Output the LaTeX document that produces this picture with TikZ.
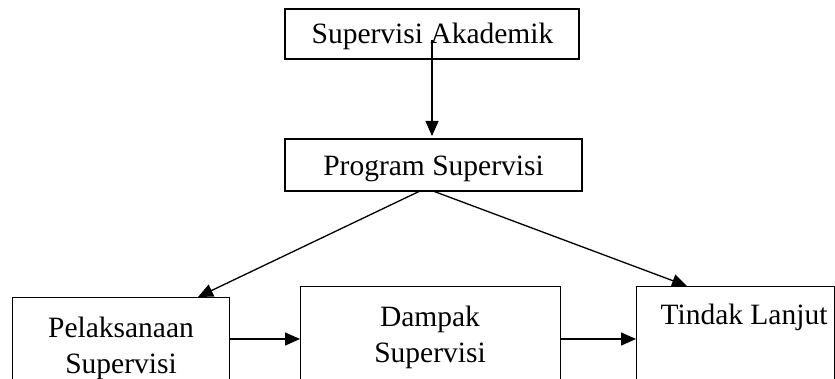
\documentclass[tikz,border=0pt]{standalone}
\usepackage{fontspec}
\setmainfont{Liberation Serif}
\usetikzlibrary{arrows.meta}
\begin{document}
\begin{tikzpicture}[x=1pt,y=-1pt,
  box/.style={draw,line width=1.3pt,rectangle,inner sep=0pt},
  lbl/.style={inner sep=0pt,align=center,font=\fontsize{29.5}{36}\selectfont},
  arr/.style={line width=1.3pt,-{Triangle[length=15pt,width=13pt]}}]
\clip (0,0) rectangle (835,379);
\fill[white] (0,0) rectangle (835,379);
% boxes
\node[box,minimum width=294pt,minimum height=50pt] (sa) at (432,34) {};
\node[lbl,anchor=base] (sat) at (432.5,44) {Supervisi Akademik};
\node[box,minimum width=297pt,minimum height=52pt] (ps) at (433.5,165) {};
\node[lbl,anchor=base] (pst) at (433.5,176) {Program Supervisi};
\node[box,anchor=north west,minimum width=217pt,minimum height=120pt] (pel) at (12,297) {};
\node[lbl] (pelt) at (121,348) {Pelaksanaan\\Supervisi};
\node[box,anchor=north west,minimum width=260pt,minimum height=130pt] (dam) at (300,286) {};
\node[lbl] (damt) at (430,337) {Dampak\\Supervisi};
\node[box,anchor=north west,minimum width=198pt,minimum height=130pt] (tin) at (636,286) {};
\node[lbl,anchor=base] (tint) at (744,324) {Tindak Lanjut};
% connectors
\coordinate (s0) at (432,40);
\coordinate (p1) at (420,191);
\coordinate (p2) at (433,191);
\coordinate (t1) at (198,297);
\coordinate (t2) at (687,286);
\draw[arr] (s0) -- (432,136);
\draw[arr] (p1) -- (t1);
\draw[arr] (p2) -- (t2);
\coordinate (h1) at (229,339);
\coordinate (h2) at (300,339);
\coordinate (h3) at (560,339);
\coordinate (h4) at (636,339);
\draw[arr] (h1) -- (h2);
\draw[arr] (h3) -- (h4);
\end{tikzpicture}
\end{document}
